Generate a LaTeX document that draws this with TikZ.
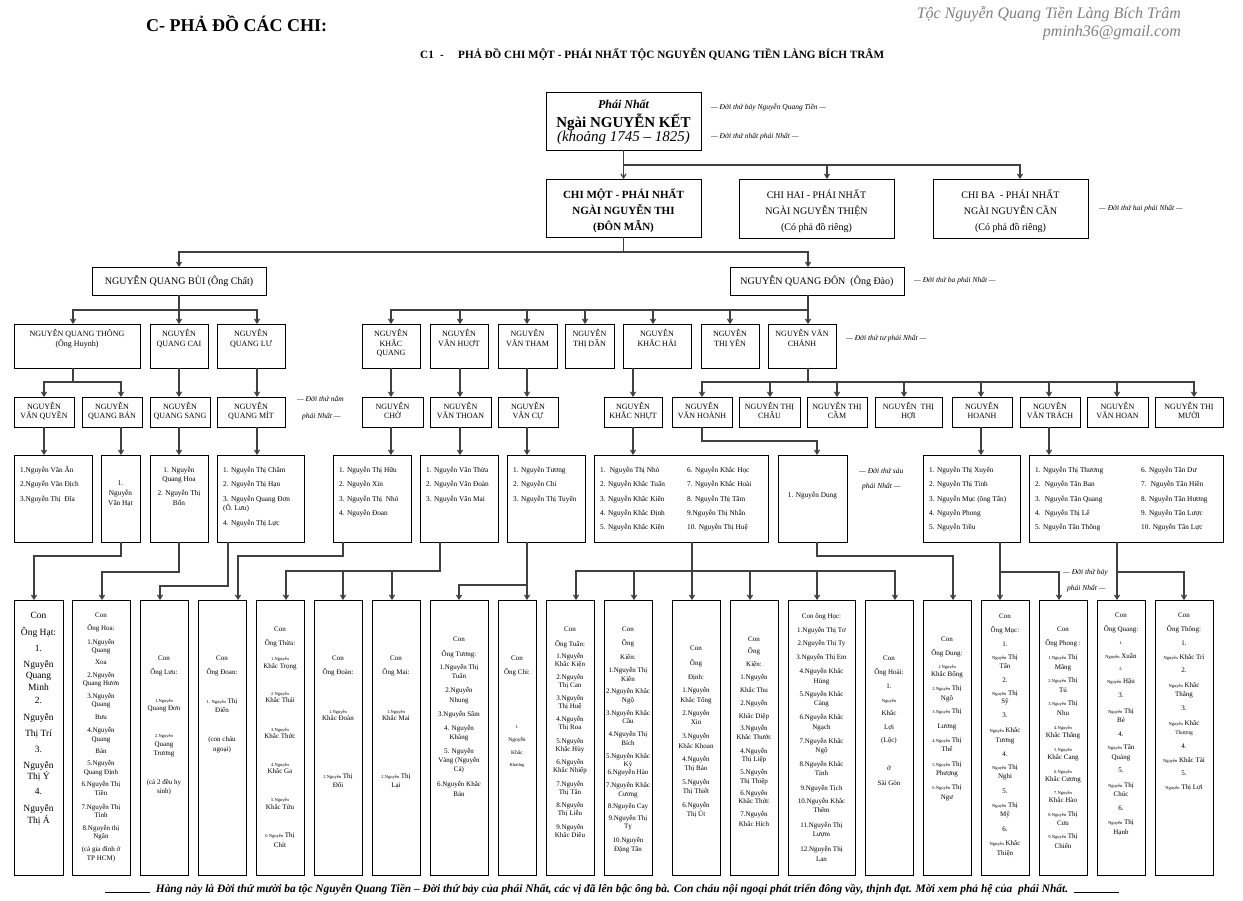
\documentclass[tikz,border=0pt]{standalone}
\usepackage{fontspec}
\setmainfont{Liberation Serif}
\usetikzlibrary{arrows.meta}
\newcommand\fs{\rule{0pt}{12pt}}
\newcommand\tn{\fontsize{4.5}{5}\selectfont}
\newcommand\tsm{\fontsize{5.5}{6}\selectfont}
\newcommand\Bx[5]{\node[bx, minimum width=#4pt, minimum height=#5pt] (#1) at (#2,#3) {};}
\begin{document}
\begin{tikzpicture}[x=1pt,y=-1pt,
  bx/.style={draw=black, line width=0.9pt, anchor=north west, inner sep=0pt, outer sep=0pt},
  captx/.style={font=\fontsize{8}{9.5}\selectfont, align=center, inner sep=0pt, anchor=north},
  captr/.style={font=\fontsize{8}{8.5}\selectfont, align=center, inner sep=0pt, anchor=north},
  lst/.style={font=\fontsize{7.3}{14.2}\selectfont, align=left, inner sep=0pt, anchor=north west},
  bot/.style={font=\fontsize{7}{8}\selectfont, align=center, inner sep=0pt, anchor=north},
  lab/.style={font=\fontsize{7.5}{9}\selectfont\itshape, inner sep=0pt, anchor=west},
  chit/.style={font=\fontsize{10}{16}\selectfont, align=center, inner sep=0pt, anchor=north},
  subt/.style={anchor=base west, font=\fontsize{11.2}{13}\selectfont\bfseries, inner sep=0pt},
  con/.style={draw=black!75, line width=1.2pt},
  arr/.style={con, -{Straight Barb[length=4pt,width=5pt]}},
]
\fill[white] (0,0) rectangle (1243,901);
\useasboundingbox (0,0) rectangle (1243,901);

% ---------- header ----------
\node[anchor=base west, font=\fontsize{18}{20}\selectfont\bfseries, inner sep=0pt] (title) at (146,32) {C- PHẢ ĐỒ CÁC CHI:};
\node[subt] (c1) at (420,59) {C1};
\node[subt] (c1d) at (440,59) {-};
\node[subt] (sub) at (458,59) {PHẢ ĐỒ CHI MỘT - PHÁI NHẤT TỘC NGUYỄN QUANG TIỀN LÀNG BÍCH TRÂM};
\node[anchor=east, font=\fontsize{16}{18}\selectfont\itshape, text=black!50, inner sep=0pt] (hdr1) at (1181,14) {Tộc Nguyễn Quang Tiền Làng Bích Trâm};
\node[anchor=east, font=\fontsize{16}{18}\selectfont\itshape, text=black!50, inner sep=0pt] (hdr2) at (1181,33) {pminh36@gmail.com};

% ---------- top boxes ----------
\Bx{root}{546}{92}{155}{58}
\node[anchor=base, font=\fontsize{12}{14}\selectfont\bfseries\itshape, inner sep=0pt] (rt1) at (623.5,109) {Phái Nhất};
\node[anchor=base, font=\fontsize{15}{17}\selectfont\bfseries, inner sep=0pt] (rt2) at (623.5,127.5) {Ngài NGUYỄN KẾT};
\node[anchor=base, font=\fontsize{15}{17}\selectfont\itshape, inner sep=0pt] (rt3) at (623.5,142) {(khoảng 1745 – 1825)};

\Bx{chi1}{546}{179}{155}{58}
\Bx{chi2}{739}{179}{155}{59}
\Bx{chi3}{933}{179}{155}{59}
\node[chit, font=\fontsize{11}{16}\selectfont\bfseries] (chi1t) at ([yshift=-7.6pt]chi1.north) {\fs CHI MỘT - PHÁI NHẤT\\NGÀI NGUYỄN THI\\(ĐÔN MẪN)};
\node[chit] (chi2t) at ([yshift=-7.3pt]chi2.north) {\fs CHI HAI - PHÁI NHẤT\\NGÀI NGUYỄN THIỆN\\(Có phả đồ riêng)};
\node[chit] (chi3t) at ([yshift=-7.3pt]chi3.north) {\fs CHI BA~ - PHÁI NHẤT\\NGÀI NGUYỄN CẦN\\(Có phả đồ riêng)};

\Bx{bui}{92}{267}{174}{28}
\Bx{don}{730}{267}{174}{28}
\node[font=\fontsize{10}{12}\selectfont, inner sep=0pt] (buit) at (bui.center) {NGUYỄN QUANG BÙI (Ông Chất)};
\node[font=\fontsize{10}{12}\selectfont, inner sep=0pt] (dont) at (don.center) {NGUYỄN QUANG ĐÔN~ (Ông Đào)};

% ---------- row 2 ----------
\Bx{thong}{14}{324}{126}{44}
\Bx{cai}{150}{324}{58}{44}
\Bx{lu}{217}{324}{68}{44}
\Bx{kquang}{362}{324}{58}{44}
\Bx{huot}{430}{324}{58}{44}
\Bx{tham}{498}{324}{59}{44}
\Bx{dan}{565}{324}{49}{44}
\Bx{hai}{623}{324}{68}{44}
\Bx{yen}{701}{324}{58}{44}
\Bx{chanh}{768}{324}{68}{44}
\node[captx] (thongt) at ([yshift=-0.6pt]thong.north) {\fs NGUYỄN QUANG THÔNG\\(Ông Huynh)};
\node[captx] (cait) at ([yshift=-0.6pt]cai.north) {\fs NGUYỄN\\QUANG CAI};
\node[captx] (lut) at ([yshift=-0.6pt]lu.north) {\fs NGUYỄN\\QUANG LƯ};
\node[captx] (kquangt) at ([yshift=-0.6pt]kquang.north) {\fs NGUYỄN\\KHẮC\\QUANG};
\node[captx] (huott) at ([yshift=-0.6pt]huot.north) {\fs NGUYỄN\\VĂN HUỢT};
\node[captx] (thamt) at ([yshift=-0.6pt]tham.north) {\fs NGUYỄN\\VĂN THAM};
\node[captx] (dant) at ([yshift=-0.6pt]dan.north) {\fs NGUYỄN\\THỊ DẦN};
\node[captx] (hait) at ([yshift=-0.6pt]hai.north) {\fs NGUYỄN\\KHẮC HẢI};
\node[captx] (yent) at ([yshift=-0.6pt]yen.north) {\fs NGUYỄN\\THỊ YÊN};
\node[captx] (chanht) at ([yshift=-0.6pt]chanh.north) {\fs NGUYỄN VĂN\\CHÁNH};

% ---------- row 3 ----------
\Bx{quyen}{14}{397}{60}{30}
\Bx{ban}{82}{397}{60}{30}
\Bx{sang}{150}{397}{60}{30}
\Bx{mit}{217}{397}{68}{30}
\Bx{cho}{362}{397}{61}{30}
\Bx{thoan}{430}{397}{61}{30}
\Bx{cu}{498}{397}{60}{30}
\Bx{nhut}{604}{397}{58}{30}
\Bx{hoanh}{672}{397}{60}{30}
\Bx{chau}{739}{397}{61}{30}
\Bx{cam}{807}{397}{60}{30}
\Bx{hoi}{875}{397}{67}{30}
\Bx{hoanhb}{952}{397}{60}{30}
\Bx{trach}{1020}{397}{60}{30}
\Bx{hoan}{1087}{397}{61}{30}
\Bx{muoi}{1155}{397}{68}{30}
\node[captr] (quyent) at ([yshift=-0.6pt]quyen.north) {\fs NGUYỄN\\VĂN QUYỀN};
\node[captr] (bant) at ([yshift=-0.6pt]ban.north) {\fs NGUYỄN\\QUANG BẢN};
\node[captr] (sangt) at ([yshift=-0.6pt]sang.north) {\fs NGUYỄN\\QUANG SANG};
\node[captr] (mitt) at ([yshift=-0.6pt]mit.north) {\fs NGUYỄN\\QUANG MÍT};
\node[captr] (chot) at ([yshift=-0.6pt]cho.north) {\fs NGUYỄN\\CHỜ};
\node[captr] (thoant) at ([yshift=-0.6pt]thoan.north) {\fs NGUYỄN\\VĂN THOAN};
\node[captr] (cut) at ([yshift=-0.6pt]cu.north) {\fs NGUYỄN\\VĂN CỰ};
\node[captr] (nhutt) at ([yshift=-0.6pt]nhut.north) {\fs NGUYỄN\\KHẮC NHỰT};
\node[captr] (hoanht) at ([yshift=-0.6pt]hoanh.north) {\fs NGUYỄN\\VĂN HOÀNH};
\node[captr] (chaut) at ([yshift=-0.6pt]chau.north) {\fs NGUYỄN THỊ\\CHÂU};
\node[captr] (camt) at ([yshift=-0.6pt]cam.north) {\fs NGUYỄN THỊ\\CẦM};
\node[captr] (hoit) at ([yshift=-0.6pt]hoi.north) {\fs NGUYỄN~ THỊ\\HỢI};
\node[captr] (hoanhbt) at ([yshift=-0.6pt]hoanhb.north) {\fs NGUYỄN\\HOANH};
\node[captr] (tracht) at ([yshift=-0.6pt]trach.north) {\fs NGUYỄN\\VĂN TRÁCH};
\node[captr] (hoant) at ([yshift=-0.6pt]hoan.north) {\fs NGUYỄN\\VĂN HOAN};
\node[captr] (muoit) at ([yshift=-0.6pt]muoi.north) {\fs NGUYỄN THỊ\\MƯỜI};

% ---------- row 4 ----------
\Bx{g1}{14}{455}{78}{87}
\Bx{g2}{101}{455}{39}{87}
\Bx{g3}{150}{455}{58}{87}
\Bx{g4}{217}{455}{87}{87}
\Bx{g5}{333}{455}{78}{87}
\Bx{g6}{420}{455}{78}{87}
\Bx{g7}{507}{455}{78}{87}
\Bx{g8}{594}{455}{174}{87}
\Bx{g9}{778}{455}{69}{87}
\Bx{g10}{923}{455}{97}{87}
\Bx{g11}{1029}{455}{194}{87}
\node[lst] (g1t) at ([xshift=6pt,yshift=-5.5pt]g1.north west) {\fs 1.Nguyễn Văn Ân\\2.Nguyễn Văn Địch\\3.Nguyễn Thị~ Đĩa};
\node[bot, font=\fontsize{7.3}{10}\selectfont] (g2t) at ([yshift=-18.3pt]g2.north) {\fs 1.\\Nguyễn\\Văn Hạt};
\node[bot, font=\fontsize{7.3}{9}\selectfont] (g3t) at ([yshift=-5.5pt]g3.north) {\fs 1. Nguyễn\\Quang Hoa\\[5pt]2. Nguyễn Thị\\[1pt]Bốn};
\node[lst] (g4t) at ([xshift=6pt,yshift=-5.5pt]g4.north west) {\fs 1. Nguyễn Thị Châm\\2. Nguyễn Thị Hạn\\3. Nguyễn Quang Đơn\\[-5pt](Ô. Lưu)\\[1pt]4. Nguyễn Thị Lực};
\node[lst] (g5t) at ([xshift=6pt,yshift=-5.5pt]g5.north west) {\fs 1. Nguyễn Thị Hữu\\2. Nguyễn Xin\\3. Nguyễn Thị~ Nhỏ\\4. Nguyễn Đoan};
\node[lst] (g6t) at ([xshift=6pt,yshift=-5.5pt]g6.north west) {\fs 1. Nguyễn Văn Thừa\\2. Nguyễn Văn Đoàn\\3. Nguyễn Văn Mai};
\node[lst] (g7t) at ([xshift=6pt,yshift=-5.5pt]g7.north west) {\fs 1. Nguyễn Tương\\2. Nguyễn Chi\\3. Nguyễn Thị Tuyến};
\node[lst] (g8a) at ([xshift=6pt,yshift=-5.5pt]g8.north west) {\fs 1.~ Nguyễn Thị Nhò\\2. Nguyễn Khắc Tuấn\\3. Nguyễn Khắc Kiên\\4. Nguyễn Khắc Định\\5. Nguyễn Khắc Kiện};
\node[lst] (g8b) at ([xshift=93pt,yshift=-5.5pt]g8.north west) {\fs 6. Nguyễn Khắc Học\\7. Nguyễn Khắc Hoài\\8. Nguyễn Thị Tâm\\9.Nguyễn Thị Nhẫn\\10. Nguyễn Thị Huệ};
\node[bot, font=\fontsize{7.3}{9}\selectfont] (g9t) at ([yshift=-30.5pt]g9.north) {\fs 1. Nguyễn Dung};
\node[lst] (g10t) at ([xshift=6pt,yshift=-5.5pt]g10.north west) {\fs 1. Nguyễn Thị Xuyến\\2. Nguyễn Thị Tình\\3. Nguyễn Mục (ông Tấn)\\4. Nguyễn Phong\\5. Nguyễn Trều};
\node[lst] (g11a) at ([xshift=6pt,yshift=-5.5pt]g11.north west) {\fs 1. Nguyễn Thị Thương\\2.~ Nguyễn Tân Ban\\3.~ Nguyễn Tân Quang\\4.~ Nguyễn Thị Lê\\5. Nguyễn Tân Thông};
\node[lst] (g11b) at ([xshift=112pt,yshift=-5.5pt]g11.north west) {\fs 6. Nguyễn Tân Dư\\7.~ Nguyễn Tân Hiền\\8. Nguyễn Tân Hương\\9. Nguyễn Tân Lược\\10. Nguyễn Tân Lực};

% ---------- bottom row ----------
\Bx{b1}{14}{600}{49}{275}
\Bx{b2}{72}{600}{58}{275}
\Bx{b3}{140}{600}{48}{275}
\Bx{b4}{198}{600}{48}{275}
\Bx{b5}{256}{600}{48}{275}
\Bx{b6}{314}{600}{48}{275}
\Bx{b7}{372}{600}{48}{275}
\Bx{b8}{430}{600}{58}{275}
\Bx{b9}{498}{600}{38}{275}
\Bx{b10}{546}{600}{48}{275}
\Bx{b11}{604}{600}{48}{275}
\Bx{b12}{672}{600}{48}{275}
\Bx{b13}{730}{600}{48}{275}
\Bx{b14}{788}{600}{67}{275}
\Bx{b15}{865}{600}{48}{275}
\Bx{b16}{923}{600}{48}{275}
\Bx{b17}{981}{600}{48}{275}
\Bx{b18}{1039}{600}{48}{275}
\Bx{b19}{1097}{600}{48}{275}
\Bx{b20}{1155}{600}{58}{275}

\node[bot, font=\fontsize{9.5}{11.5}\selectfont] (b1t) at ([yshift=-6.1pt]b1.north) {\fs Con\\[5.5pt]Ông Hạt:\\[4.5pt]1.\\[4.5pt]Nguyễn\\Quang\\Minh\\[1.5pt]2.\\[5.5pt]Nguyễn\\[4.5pt]Thị Trí\\[4.5pt]3.\\[4.5pt]Nguyễn\\Thị Ý\\[3.5pt]4.\\[5.5pt]Nguyễn\\Thị Á};
\node[bot] (b2t) at ([yshift=-5.3pt]b2.north) {\fs Con\\[5pt]Ông Hoa:\\[6pt]1.Nguyễn\\Quang\\[4pt]Xoa\\[5pt]2.Nguyễn\\Quang Hươn\\[5pt]3.Nguyễn\\Quang\\[5pt]Bưu\\[5pt]4.Nguyễn\\[1pt]Quang\\[4pt]Bản\\[4pt]5.Nguyễn\\[1pt]Quang Định\\[4pt]6.Nguyễn Thị\\[1pt]Tiền\\[6pt]7.Nguyễn Thị\\Tình\\[5pt]8.Nguyễn thị\\Ngân\\[5pt](cả gia đình ở\\[1pt]TP HCM)};
\node[bot] (b3t) at ([yshift=-48.3pt]b3.north) {\fs Con\\[6pt]Ông Lưu:\\[20pt]{\tn 1.Nguyễn}\\Quang Đơn\\[19pt]{\tn 2.Nguyễn}\\[1pt]Quang\\[1pt]Trương\\[21pt](cả 2 đều hy\\[1pt]sinh)};
\node[bot] (b4t) at ([yshift=-48.3pt]b4.north) {\fs Con\\[6pt]Ông Đoan:\\[21pt]{\tn 1. Nguyễn} Thị\\[1pt]Điển\\[21pt](con cháu\\[2pt]ngoại)};
\node[bot] (b5t) at ([yshift=-19.3pt]b5.north) {\fs Con\\[6pt]Ông Thừa:\\[7pt]{\tn 1.Nguyễn}\\Khắc Trọng\\[19pt]{\tn 2.Nguyễn}\\[-1pt]Khắc Thái\\[21pt]{\tn 3.Nguyễn}\\[-1pt]Khắc Thức\\[20pt]{\tn 4.Nguyễn}\\[-1pt]Khắc Ga\\[20pt]{\tn 5.Nguyễn}\\Khắc Tửu\\[20pt]{\tn 6.Nguyễn} Thị\\[2pt]Chít};
\node[bot] (b6t) at ([yshift=-48.3pt]b6.north) {\fs Con\\[6pt]Ông Đoàn:\\[31pt]{\tn 1.Nguyễn}\\[-1pt]Khắc Đoàn\\[50pt]{\tn 2.Nguyễn} Thị\\[1pt]Đối};
\node[bot] (b7t) at ([yshift=-48.3pt]b7.north) {\fs Con\\[6pt]Ông Mai:\\[31pt]{\tn 1.Nguyễn}\\[-1pt]Khắc Mai\\[50pt]{\tn 2.Nguyễn} Thị\\[1pt]Lại};
\node[bot] (b8t) at ([yshift=-29.3pt]b8.north) {\fs Con\\[7pt]Ông Tương:\\[5pt]1.Nguyễn Thị\\[1pt]Tuấn\\[6pt]2.Nguyễn\\[2pt]Nhung\\[6pt]3.Nguyễn Sâm\\[6pt]4. Nguyễn\\[1pt]Khăng\\[6pt]5. Nguyễn\\[1pt]Vàng (Nguyễn\\[1pt]Cả)\\[7pt]6.Nguyễn Khắc\\[2pt]Bản};
\node[bot] (b9t) at ([yshift=-48.3pt]b9.north) {\fs Con\\[6pt]Ông Chi:\\[46pt]{\tn 1.}\\[5pt]{\tsm Nguyễn}\\[5pt]{\tsm Khắc}\\[4pt]{\tn Khương}};
\node[bot] (b10t) at ([yshift=-19.3pt]b10.north) {\fs Con\\[7pt]Ông Tuấn:\\[4pt]1.Nguyễn\\Khắc Kiện\\[5pt]2.Nguyễn\\Thị Can\\[5pt]3.Nguyễn\\Thị Huệ\\[5pt]4.Nguyễn\\Thị Roa\\[6pt]5.Nguyễn\\Khắc Hùy\\[5pt]6.Nguyễn\\Khắc Nhiếp\\[6pt]7.Nguyễn\\Thị Tân\\[5pt]8.Nguyễn\\Thị Liễu\\[6pt]9.Nguyễn\\Khắc Diêu};
\node[bot] (b11t) at ([yshift=-19.3pt]b11.north) {\fs Con\\[6pt]Ông\\[6pt]Kiên:\\[5pt]1.Nguyễn Thị\\[1pt]Kiên\\[4pt]2.Nguyễn Khắc\\[1pt]Ngộ\\[5pt]3.Nguyễn Khắc\\Cầu\\[5pt]4.Nguyễn Thị\\[1pt]Bích\\[5pt]5.Nguyễn Khắc\\Kỳ\\6.Nguyễn Hào\\[5pt]7.Nguyễn Khắc\\[1pt]Cương\\[4pt]8.Nguyễn Cay\\[4pt]9.Nguyễn Thị\\Tỵ\\[6pt]10.Nguyễn\\[1pt]Đặng Tân};
\node[bot] (b12t) at ([yshift=-38.3pt]b12.north) {\fs Con\\[7pt]Ông\\[6pt]Định:\\[5pt]1.Nguyễn\\[2pt]Khắc Tổng\\[5pt]2.Nguyễn\\[1pt]Xin\\[6pt]3.Nguyễn\\[2pt]Khắc Khoan\\[5pt]4.Nguyễn\\[1pt]Thị Bảo\\[6pt]5.Nguyễn\\[1pt]Thị Thiết\\[6pt]6.Nguyễn\\[1pt]Thị Út};
\node[bot] (b13t) at ([yshift=-29.3pt]b13.north) {\fs Con\\[4pt]Ông\\[5pt]Kiện:\\[5pt]1.Nguyễn\\[5pt]Khắc Thu\\[5pt]2.Nguyễn\\[5pt]Khắc Diệp\\[4pt]3.Nguyễn\\[1pt]Khắc Thước\\[6pt]4.Nguyễn\\Thị Liệp\\[5pt]5.Nguyễn\\[1pt]Thị Thiệp\\[4pt]6.Nguyễn\\Khắc Thức\\[5pt]7.Nguyễn\\[2pt]Khắc Hích};
\node[bot] (b14t) at ([yshift=-6.3pt]b14.north) {\fs Con ông Học:\\[6pt]1.Nguyễn Thị Tơ\\[5pt]2.Nguyễn Thị Ty\\[6pt]3.Nguyễn Thị Em\\[6pt]4.Nguyễn Khắc\\[2pt]Hùng\\[5pt]5.Nguyễn Khắc\\[1pt]Càng\\[6pt]6.Nguyễn Khắc\\[2pt]Ngạch\\[6pt]7.Nguyễn Khắc\\[1pt]Ngộ\\[6pt]8.Nguyễn Khắc\\[1pt]Tịnh\\[7pt]9.Nguyễn Tịch\\[5pt]10.Nguyễn Khắc\\[1pt]Thêm\\[7pt]11.Nguyễn Thị\\[1pt]Lượm\\[7pt]12.Nguyễn Thị\\[2pt]Lan};
\node[bot] (b15t) at ([yshift=-48.3pt]b15.north) {\fs Con\\[6pt]Ông Hoài:\\[6pt]1.\\[6pt]{\tn Nguyễn}\\[5pt]Khắc\\[6pt]Lợi\\[5pt](Lộc)\\[20pt]ở\\[7pt]Sài Gòn};
\node[bot] (b16t) at ([yshift=-29.3pt]b16.north) {\fs Con\\[6pt]Ông Dung:\\[5pt]{\tn 1.Nguyễn}\\Khắc Bổng\\[6pt]{\tn 2.Nguyễn} Thị\\[2pt]Ngô\\[5pt]{\tn 3.Nguyễn} Thị\\[7pt]Lương\\[6pt]{\tn 4.Nguyễn} Thị\\[1pt]Thể\\[7pt]{\tn 5.Nguyễn} Thị\\[1pt]Phượng\\[6pt]{\tn 6.Nguyễn} Thị\\[2pt]Ngư};
\node[bot] (b17t) at ([yshift=-6.3pt]b17.north) {\fs Con\\[6pt]Ông Mục:\\[6pt]1.\\[5pt]{\tn Nguyễn} Thị\\[1pt]Tấn\\[6pt]2.\\[5pt]{\tn Nguyễn} Thị\\Sỹ\\[6pt]3.\\[7pt]{\tn Nguyễn} Khắc\\[2pt]Tương\\[6pt]4.\\[5pt]{\tn Nguyễn} Thị\\[1pt]Nghi\\[7pt]5.\\[6pt]{\tn Nguyễn} Thị\\[1pt]Mỹ\\[7pt]6.\\[6pt]{\tn Nguyễn} Khắc\\[2pt]Thiện};
\node[bot] (b18t) at ([yshift=-19.3pt]b18.north) {\fs Con\\[6pt]Ông Phong :\\[6pt]{\tn 1.Nguyễn} Thị\\[2pt]Mãng\\[5pt]{\tn 2.Nguyễn} Thị\\[2pt]Tú\\[5pt]{\tn 3.Nguyễn} Thị\\[2pt]Nhu\\[6pt]{\tn 4.Nguyễn}\\Khắc Thắng\\[6pt]{\tn 5.Nguyễn}\\Khắc Cang\\[6pt]{\tn 6.Nguyễn}\\Khắc Cương\\[5pt]{\tn 7.Nguyễn}\\Khắc Hào\\[6pt]{\tn 8.Nguyễn} Thị\\[1pt]Cưu\\[5pt]{\tn 9.Nguyễn} Thị\\[2pt]Chiến};
\node[bot] (b19t) at ([yshift=-5.3pt]b19.north) {\fs Con\\[6pt]Ông Quang:\\[5pt]{\tn 1.}\\[6pt]{\tn Nguyễn} Xuân\\[4pt]{\tn 2.}\\[5pt]{\tn Nguyễn} Hậu\\[6pt]3.\\[8pt]{\tn Nguyễn} Thị\\[1pt]Bé\\[6pt]4.\\[5pt]{\tn Nguyễn} Tân\\[2pt]Quảng\\[5pt]5.\\[7pt]{\tn Nguyễn} Thị\\[1pt]Chúc\\[6pt]6.\\[6pt]{\tn Nguyễn} Thị\\[2pt]Hạnh};
\node[bot] (b20t) at ([yshift=-5.3pt]b20.north) {\fs Con\\[6pt]Ông Thông:\\[6pt]1.\\[6pt]{\tn Nguyễn} Khắc Trí\\[5pt]2.\\[7pt]{\tn Nguyễn} Khắc\\[1pt]Thắng\\[6pt]3.\\[7pt]{\tn Nguyễn} Khắc\\[1pt]{\tsm Thượng}\\[6pt]4.\\[6pt]{\tn Nguyễn} Khắc Tài\\[5pt]5.\\[6pt]{\tn Nguyễn} Thị Lợi};

% ---------- generation labels ----------
\node[lab] (l7) at (711,108) {— Đời thứ bảy Nguyễn Quang Tiền —};
\node[lab] (l1) at (711,137) {— Đời thứ nhất phái Nhất —};
\node[lab] (l2) at (1099,209) {— Đời thứ hai phái Nhất —};
\node[lab] (l3) at (914,281) {— Đời thứ ba phái Nhất —};
\node[lab] (l4) at (846,339) {— Đời thứ tư phái Nhất —};
\node[lab] (l5a) at (297,399) {— Đời thứ năm};
\node[lab] (l5b) at (302,417) {phái Nhất —};
\node[lab] (l6a) at (859,471) {— Đời thứ sáu};
\node[lab] (l6b) at (862,487) {phái Nhất —};
\node[lab] (l7a) at (1063,573) {— Đời thứ bảy};
\node[lab] (l7b) at (1067,589) {phái Nhất —};

% ---------- connectors ----------
\draw[arr] (root.south) -- (chi1.north);
\draw[arr] (root.south) -- ++(0,15) -| (chi2.north -| 827,0);
\draw[arr] (root.south) -- ++(0,15) -| (chi3.north -| 1020,0);
\draw[arr] (chi1.south) -- ++(0,15) -| (bui.north);
\draw[arr] (chi1.south) -- ++(0,15) -| (don.north -| 808,0);
\foreach \n/\x in {thong/73, cai/179, lu/257}
  \draw[arr] (bui.south) -- ++(0,15) -| (\n.north -| \x,0);
\foreach \n/\x in {kquang/391, huot/460, tham/527, dan/585, hai/653, yen/730, chanh/808}
  \draw[arr] (don.south -| 808,0) -- ++(0,15) -| (\n.north -| \x,0);
\foreach \n/\x in {quyen/44, ban/121}
  \draw[arr] (thong.south -| 73,0) -- ++(0,14) -| (\n.north -| \x,0);
\draw[arr] (cai.south -| 179,0) -- (sang.north -| 179,0);
\draw[arr] (lu.south -| 257,0) -- (mit.north -| 257,0);
\draw[arr] (quyen.south -| 44,0) -- (g1.north -| 44,0);
\draw[arr] (ban.south -| 121,0) -- (g2.north -| 121,0);
\draw[arr] (sang.south -| 179,0) -- (g3.north -| 179,0);
\draw[arr] (mit.south -| 257,0) -- (g4.north -| 257,0);
\draw[arr] (kquang.south -| 391,0) -- (cho.north -| 391,0);
\draw[arr] (huot.south -| 460,0) -- (thoan.north -| 460,0);
\draw[arr] (tham.south -| 527,0) -- (cu.north -| 527,0);
\draw[arr] (hai.south -| 633,0) -- (nhut.north -| 633,0);
\foreach \n/\x in {hoanh/702, chau/770, cam/837, hoi/904, hoanhb/981, trach/1049, hoan/1117, muoi/1194}
  \draw[arr] (chanh.south -| 808,0) -- ++(0,14) -| (\n.north -| \x,0);
\draw[arr] (cho.south -| 391,0) -- (g5.north -| 391,0);
\draw[arr] (thoan.south -| 460,0) -- (g6.north -| 460,0);
\draw[arr] (cu.south -| 527,0) -- (g7.north -| 527,0);
\draw[arr] (nhut.south -| 633,0) -- (g8.north -| 633,0);
\draw[arr] (hoanh.south -| 702,0) -- ++(0,14) -| (g9.north -| 817,0);
\draw[arr] (hoanhb.south -| 981,0) -- (g10.north -| 981,0);
\draw[arr] (trach.south -| 1049,0) -- (g11.north -| 1049,0);
% to bottom row
\draw[arr] (g2.south -| 121,0) -- ++(0,14) -| (b1.north -| 34,0);
\draw[arr] (g3.south -| 179,0) -- ++(0,30) -| (b2.north -| 102,0);
\draw[arr] (g4.south -| 228,0) -- ++(0,44) -| (b3.north -| 160,0);
\draw[arr] (g5.south -| 343,0) -- ++(0,14) -| (b4.north -| 238,0);
\foreach \n/\x in {b5/286, b6/343, b7/392}
  \draw[arr] (g6.south -| 440,0) -- ++(0,29) -| (\n.north -| \x,0);
\draw[arr] (g7.south -| 527,0) -- (b9.north -| 527,0);
\draw[arr] (g7.south -| 527,0) -- ++(0,43) -| (b8.north -| 459,0);
\draw[arr] (g8.south -| 692,0) -- (b12.north -| 692,0);
\foreach \n/\x in {b10/576, b11/634, b13/750, b14/817, b15/895}
  \draw[arr] (g8.south -| 692,0) -- ++(0,29) -| (\n.north -| \x,0);
\draw[arr] (g9.south -| 817,0) -- ++(0,14) -| (b16.north -| 953,0);
\draw[arr] (g10.south -| 1000,0) -- (b17.north -| 1000,0);
\draw[arr] (g10.south -| 1000,0) -- ++(0,30) -| (b18.north -| 1059,0);
\draw[arr] (g11.south -| 1117,0) -- (b19.north -| 1117,0);
\draw[arr] (g11.south -| 1117,0) -- ++(0,30) -| (b20.north -| 1184,0);

% ---------- footer ----------
\node[font=\fontsize{11.4}{13}\selectfont\bfseries\itshape, inner sep=0pt] (foot) at (612,889) {\rule[-1pt]{45pt}{0.7pt}\hspace{6pt}Hàng này là Đời thứ mười ba tộc Nguyễn Quang Tiền – Đời thứ bảy của phái Nhất, các vị đã lên bậc ông bà. Con cháu nội ngoại phát triển đông vầy, thịnh đạt. Mời xem phả hệ của~ phái Nhất.\hspace{6pt}\rule[-1pt]{45pt}{0.7pt}};
\end{tikzpicture}
\end{document}
